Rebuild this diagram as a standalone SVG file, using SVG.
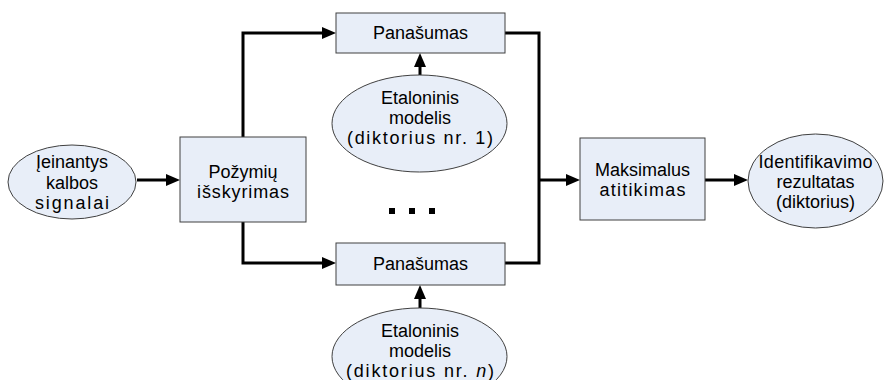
<svg xmlns="http://www.w3.org/2000/svg" width="885" height="380" viewBox="0 0 885 380">
<defs>
<style>
.box{fill:#E8EEF8;stroke:#404040;stroke-width:1}
.ell{fill:#E8EEF8;stroke:#404040;stroke-width:1}
.t{font-family:"Liberation Sans",Arial,sans-serif;font-size:18px;fill:#000;text-anchor:middle}
.c{fill:none;stroke:#000;stroke-width:3}
.dot{fill:#000}
</style>
<marker id="ah" markerUnits="userSpaceOnUse" markerWidth="14" markerHeight="12" refX="4" refY="6" orient="auto">
<path d="M0,0 L14,6 L0,12 Z" fill="#000"/>
</marker>
</defs>
<rect width="885" height="380" fill="#fff"/>
<g id="connectors">
<path class="c" d="M137,180 H170" marker-end="url(#ah)"/>
<path class="c" d="M243,137 V33 H326" marker-end="url(#ah)"/>
<path class="c" d="M243,222 V263 H326" marker-end="url(#ah)"/>
<path class="c" d="M420,75 V63" marker-end="url(#ah)"/>
<path class="c" d="M420,308 V295" marker-end="url(#ah)"/>
<path class="c" d="M505,33 H539 V263 H505"/>
<path class="c" d="M539,180 H570" marker-end="url(#ah)"/>
<path class="c" d="M705,180 H738" marker-end="url(#ah)"/>
</g>
<g id="input">
<ellipse class="ell" cx="72" cy="182" rx="64" ry="37"/>
<text class="t" x="72" y="168">Įeinantys</text>
<text class="t" x="72" y="189">kalbos</text>
<text class="t" x="72" y="209" textLength="74" lengthAdjust="spacing">signalai</text>
</g>
<g id="features">
<rect class="box" x="180" y="137" width="126" height="85"/>
<text class="t" x="243" y="178">Požymių</text>
<text class="t" x="243" y="198" textLength="92" lengthAdjust="spacing">išskyrimas</text>
</g>
<g id="sim1">
<rect class="box" x="336" y="13" width="169" height="40"/>
<text class="t" x="420.5" y="39">Panašumas</text>
</g>
<g id="model1">
<ellipse class="ell" cx="419.5" cy="123.5" rx="87.5" ry="48.5"/>
<text class="t" x="420" y="104">Etaloninis</text>
<text class="t" x="420" y="124">modelis</text>
<text class="t" x="420" y="144" textLength="146" lengthAdjust="spacing">(diktorius nr. 1)</text>
</g>
<g id="dots">
<rect class="dot" x="389" y="208" width="6" height="6"/>
<rect class="dot" x="409" y="208" width="6" height="6"/>
<rect class="dot" x="429" y="208" width="6" height="6"/>
</g>
<g id="simn">
<rect class="box" x="336" y="243" width="169" height="42"/>
<text class="t" x="420.5" y="270">Panašumas</text>
</g>
<g id="modeln">
<ellipse class="ell" cx="419.5" cy="356.5" rx="87.5" ry="48.5"/>
<text class="t" x="420" y="337">Etaloninis</text>
<text class="t" x="420" y="357">modelis</text>
<text class="t" x="420" y="377" textLength="148" lengthAdjust="spacing">(diktorius nr. <tspan font-style="italic">n</tspan>)</text>
</g>
<g id="max">
<rect class="box" x="580" y="138" width="125" height="82"/>
<text class="t" x="642.5" y="176">Maksimalus</text>
<text class="t" x="642.5" y="196" textLength="86" lengthAdjust="spacing">atitikimas</text>
</g>
<g id="result">
<ellipse class="ell" cx="815.5" cy="181" rx="67.5" ry="47"/>
<text class="t" x="815.5" y="168" textLength="114" lengthAdjust="spacing">Identifikavimo</text>
<text class="t" x="815.5" y="188">rezultatas</text>
<text class="t" x="815.5" y="208">(diktorius)</text>
</g>
</svg>
